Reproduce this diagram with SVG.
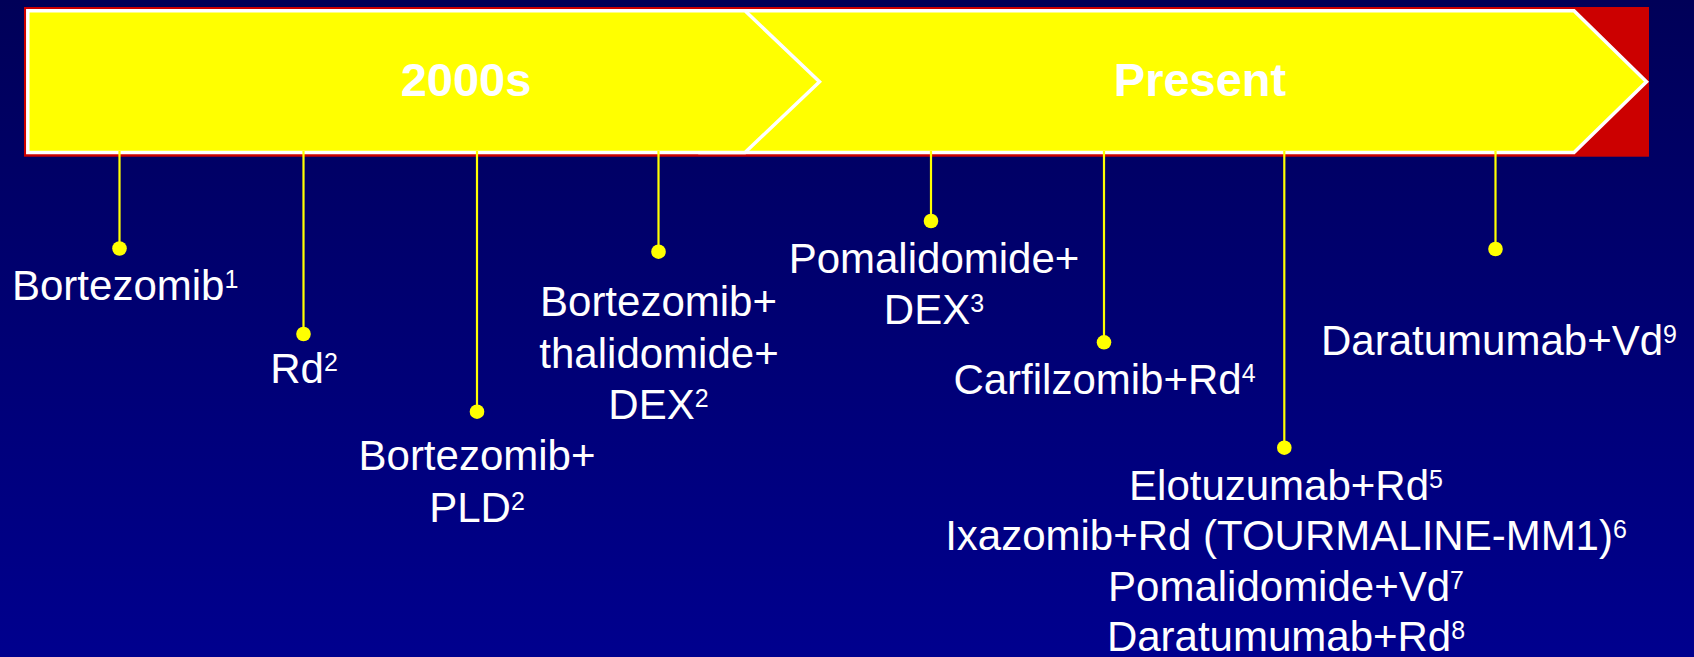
<svg xmlns="http://www.w3.org/2000/svg" width="1694" height="657" viewBox="0 0 1694 657">
  <defs>
    <linearGradient id="bg" x1="0" y1="0" x2="0" y2="1">
      <stop offset="0" stop-color="#000058"/>
      <stop offset="1" stop-color="#00008E"/>
    </linearGradient>
    <style>
      .chev { fill: #FFFF00; stroke: #FFFFFF; stroke-width: 3.5; stroke-linejoin: miter; }
      .era { font-family: "Liberation Sans", Arial, sans-serif; font-weight: bold; font-size: 47px; fill: #FFFFFF; text-anchor: middle; }
      .lbl { font-family: "Liberation Sans", Arial, sans-serif; font-size: 42px; fill: #FFFFFF; text-anchor: middle; }
      .sup { font-size: 25px; }
      .tick { stroke: #FFFF00; stroke-width: 2.2; fill: none; }
      .dot { fill: #FFFF00; }
    </style>
  </defs>
  <rect x="0" y="0" width="1694" height="657" fill="url(#bg)"/>

  <g id="banner">
    <rect x="24" y="7" width="1625" height="149.7" fill="#CC0000"/>
    <polygon class="chev" points="700,10.8 1574,10.8 1646.5,81.7 1574,152.5 700,152.5"/>
    <polygon class="chev" points="27.8,10.8 745,10.8 819.5,81.7 745,152.5 27.8,152.5"/>
    <text class="era" x="466" y="96">2000s</text>
    <text class="era" x="1200" y="96">Present</text>
  </g>

  <g id="connectors">
    <line class="tick" x1="119.5" y1="151" x2="119.5" y2="248.5"/>
    <line class="tick" x1="303.5" y1="151" x2="303.5" y2="334"/>
    <line class="tick" x1="477" y1="151" x2="477" y2="411.7"/>
    <line class="tick" x1="658.5" y1="151" x2="658.5" y2="251.7"/>
    <line class="tick" x1="931" y1="151" x2="931" y2="221"/>
    <line class="tick" x1="1104" y1="151" x2="1104" y2="342.3"/>
    <line class="tick" x1="1284.3" y1="151" x2="1284.3" y2="447.7"/>
    <line class="tick" x1="1495.5" y1="151" x2="1495.5" y2="249"/>
  </g>

  <g id="node-bortezomib">
    <circle class="dot" cx="119.5" cy="248.5" r="7.3"/>
    <text class="lbl" x="12" y="299.5" style="text-anchor:start">Bortezomib<tspan class="sup" dy="-12">1</tspan></text>
  </g>

  <g id="node-rd">
    <circle class="dot" cx="303.5" cy="334" r="7.3"/>
    <text class="lbl" x="304" y="383">Rd<tspan class="sup" dy="-12">2</tspan></text>
  </g>

  <g id="node-bortezomib-pld">
    <circle class="dot" cx="477" cy="411.7" r="7.3"/>
    <text class="lbl" x="477" y="470">Bortezomib+</text>
    <text class="lbl" x="477" y="521.5">PLD<tspan class="sup" dy="-12">2</tspan></text>
  </g>

  <g id="node-vtd">
    <circle class="dot" cx="658.5" cy="251.7" r="7.3"/>
    <text class="lbl" x="658.5" y="316">Bortezomib+</text>
    <text class="lbl" x="659" y="367.5">thalidomide+</text>
    <text class="lbl" x="658.5" y="419">DEX<tspan class="sup" dy="-12">2</tspan></text>
  </g>

  <g id="node-pomdex">
    <circle class="dot" cx="931" cy="221" r="7.3"/>
    <text class="lbl" x="934" y="273">Pomalidomide+</text>
    <text class="lbl" x="934" y="323.5">DEX<tspan class="sup" dy="-12">3</tspan></text>
  </g>

  <g id="node-krd">
    <circle class="dot" cx="1104" cy="342.3" r="7.3"/>
    <text class="lbl" x="1104.5" y="393.5">Carfilzomib+Rd<tspan class="sup" dy="-12">4</tspan></text>
  </g>

  <g id="node-combos">
    <circle class="dot" cx="1284.3" cy="447.7" r="7.3"/>
    <text class="lbl" x="1286" y="499.5">Elotuzumab+Rd<tspan class="sup" dy="-12">5</tspan></text>
    <text class="lbl" x="1286" y="550">Ixazomib+Rd (TOURMALINE-MM1)<tspan class="sup" dy="-12">6</tspan></text>
    <text class="lbl" x="1286" y="601">Pomalidomide+Vd<tspan class="sup" dy="-12">7</tspan></text>
    <text class="lbl" x="1286" y="650.5">Daratumumab+Rd<tspan class="sup" dy="-12">8</tspan></text>
  </g>

  <g id="node-dvd">
    <circle class="dot" cx="1495.5" cy="249" r="7.3"/>
    <text class="lbl" x="1499" y="355">Daratumumab+Vd<tspan class="sup" dy="-12">9</tspan></text>
  </g>
</svg>
